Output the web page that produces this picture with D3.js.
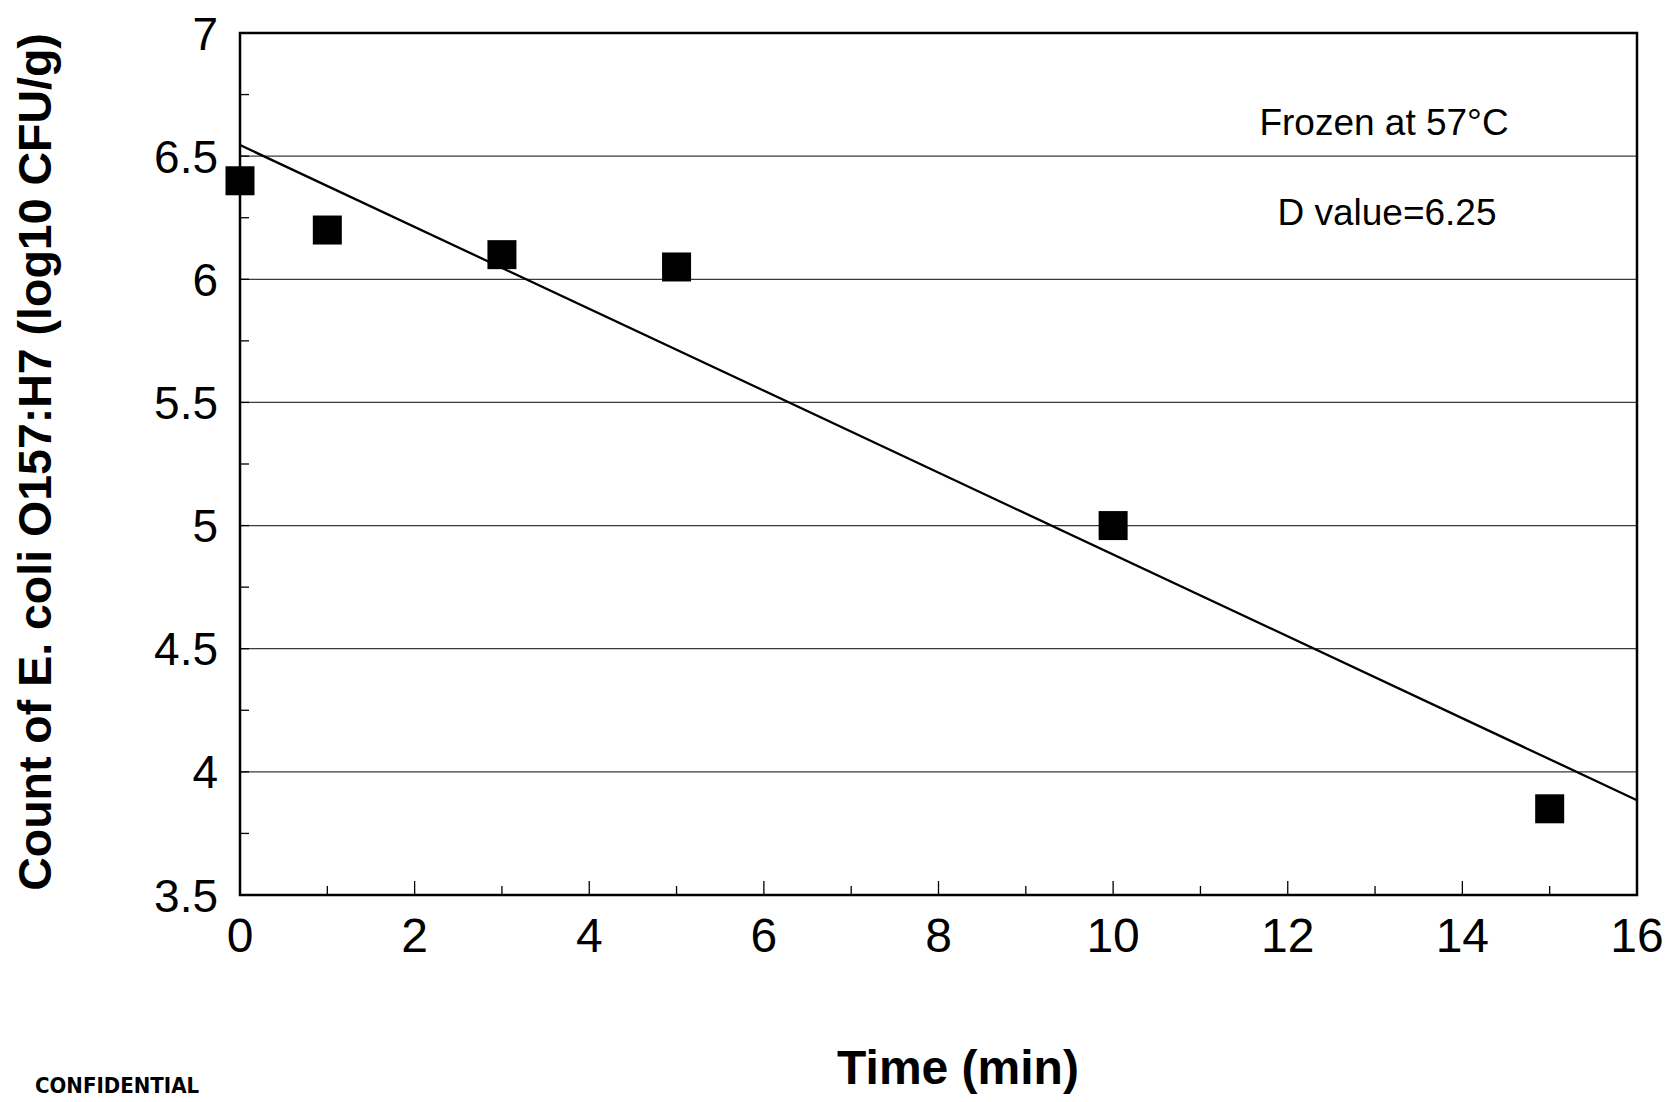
<!DOCTYPE html>
<html>
<head>
<meta charset="utf-8">
<script src="https://cdn.jsdelivr.net/npm/d3@7"></script>
<style>
html,body{margin:0;padding:0;background:#fff;overflow:hidden;}
svg{display:block;}
</style>
</head>
<body>
<svg id="chart" width="1675" height="1102"></svg>
<script>
// Data
const times = [0, 1, 3, 5, 10, 15];
const counts = [6.40, 6.20, 6.10, 6.05, 5.00, 3.85];
const fitX = [0, 16];
const fitY = [6.545, 3.885];
const xTicks = [0, 2, 4, 6, 8, 10, 12, 14, 16];
const yTicks = [3.5, 4, 4.5, 5, 5.5, 6, 6.5, 7];
const gridValues = [4, 4.5, 5, 5.5, 6, 6.5];
const notes = ["Frozen at 57°C", "D value=6.25"];
const xTitle = "Time (min)";
const yTitle = "Count of E. coli O157:H7 (log10 CFU/g)";

const svg = d3.select("#chart");
const font = "'Liberation Sans', Arial, sans-serif";
const L = 240, R = 1637, T = 33, B = 895;
const x = d3.scaleLinear().domain([0, 16]).range([L, R]);
const y = d3.scaleLinear().domain([3.5, 7]).range([B, T]);

// gridlines
svg.append("g").selectAll("line").data(gridValues).join("line")
  .attr("x1", L).attr("x2", R)
  .attr("y1", d => y(d)).attr("y2", d => y(d))
  .attr("stroke", "#3a3a3a").attr("stroke-width", 1.3);

// minor ticks inside
const yMinor = d3.range(3.75, 7, 0.25);
svg.append("g").selectAll("line").data(yMinor).join("line")
  .attr("x1", L).attr("x2", L + 9)
  .attr("y1", d => y(d)).attr("y2", d => y(d))
  .attr("stroke", "#000").attr("stroke-width", 1.3);
const xMinor = d3.range(1, 16, 1);
svg.append("g").selectAll("line").data(xMinor).join("line")
  .attr("x1", d => x(d)).attr("x2", d => x(d))
  .attr("y1", B).attr("y2", d => B - (d % 2 === 0 ? 14 : 9))
  .attr("stroke", "#000").attr("stroke-width", 1.3);

// fit line
svg.append("line")
  .attr("x1", x(fitX[0])).attr("y1", y(fitY[0]))
  .attr("x2", x(fitX[1])).attr("y2", y(fitY[1]))
  .attr("stroke", "#000").attr("stroke-width", 2.3);

// frame
svg.append("rect").attr("x", L).attr("y", T).attr("width", R - L).attr("height", B - T)
  .attr("fill", "none").attr("stroke", "#000").attr("stroke-width", 2.5);

// points
const s = 29;
svg.append("g").selectAll("rect").data(times.map((t, i) => [t, counts[i]])).join("rect")
  .attr("x", d => x(d[0]) - s / 2).attr("y", d => y(d[1]) - s / 2)
  .attr("width", s).attr("height", s).attr("fill", "#000");

// y tick labels
svg.append("g").selectAll("text").data(yTicks).join("text")
  .attr("x", L - 22).attr("y", d => y(d)).attr("dy", "0.36em")
  .attr("text-anchor", "end").attr("font-family", font).attr("font-size", 46)
  .text(d => d);

// x tick labels
svg.append("g").selectAll("text").data(xTicks).join("text")
  .attr("x", d => x(d)).attr("y", B + 57)
  .attr("text-anchor", "middle").attr("font-family", font).attr("font-size", 48)
  .text(d => d);

// annotations
svg.append("text").attr("x", 1384).attr("y", 135).attr("text-anchor", "middle")
  .attr("font-family", font).attr("font-size", 37).text(notes[0]);
svg.append("text").attr("x", 1387).attr("y", 225).attr("text-anchor", "middle")
  .attr("font-family", font).attr("font-size", 37).text(notes[1]);

// axis titles
svg.append("text").attr("x", 958).attr("y", 1084).attr("text-anchor", "middle")
  .attr("font-family", font).attr("font-size", 48).attr("font-weight", "bold").text(xTitle);
svg.append("text").attr("transform", "translate(51,462) rotate(-90)")
  .attr("text-anchor", "middle")
  .attr("font-family", font).attr("font-size", 46.5).attr("font-weight", "bold").text(yTitle);

// stamp
svg.append("text").attr("x", 35).attr("y", 1093)
  .attr("font-family", "'DejaVu Sans Condensed', 'DejaVu Sans', sans-serif")
  .attr("font-stretch", "condensed")
  .attr("font-size", 22).attr("font-weight", "bold").text("CONFIDENTIAL");
</script>
</body>
</html>
